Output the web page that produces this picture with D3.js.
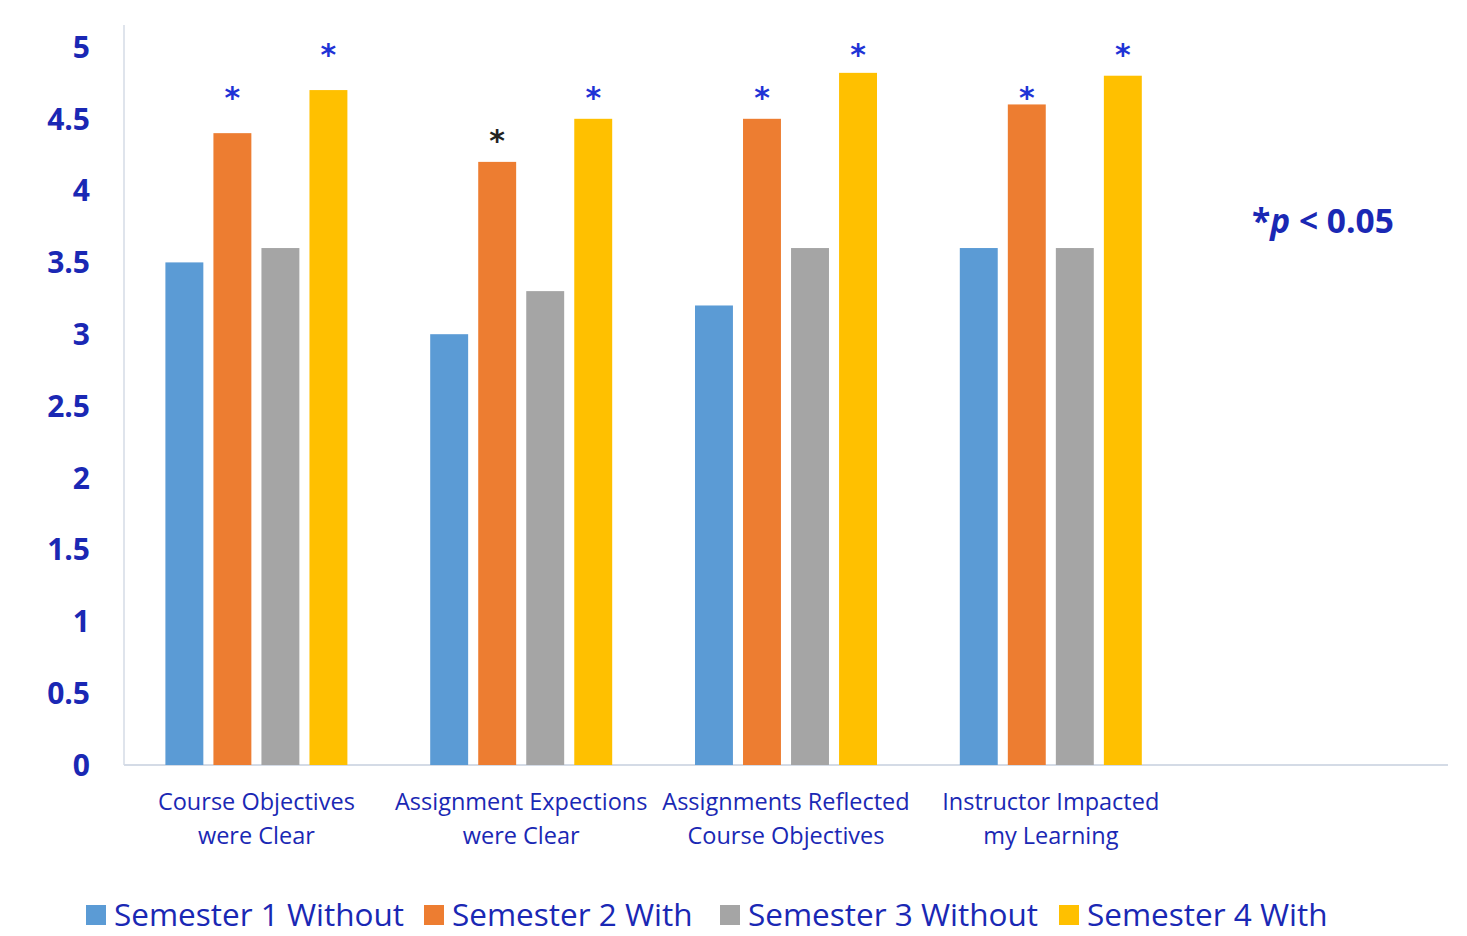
<!DOCTYPE html>
<html>
<head>
<meta charset="utf-8">
<script src="https://cdn.jsdelivr.net/npm/d3@7"></script>
<style>
  body { margin: 0; background: #fff; }
  svg { display: block; }
</style>
</head>
<body>
<div id="chart"></div>
<script>
const categories = [
  ["Course Objectives", "were Clear"],
  ["Assignment Expections", "were Clear"],
  ["Assignments Reflected", "Course Objectives"],
  ["Instructor Impacted", "my Learning"]
];
const seriesNames = ["Semester 1 Without", "Semester 2 With", "Semester 3 Without", "Semester 4 With"];
const sem1 = [3.5, 3.0, 3.2, 3.6];
const sem2 = [4.4, 4.2, 4.5, 4.6];
const sem3 = [3.6, 3.3, 3.6, 3.6];
const sem4 = [4.7, 4.5, 4.82, 4.8];
// significance stars: colour and the level (in axis units) they sit at
const sem2Star = ["blue", "black", "blue", "blue"];
const sem4Star = ["blue", "blue", "blue", "blue"];
const sem2StarLevel = [4.68, 4.38, 4.68, 4.68];
const sem4StarLevel = [4.98, 4.68, 4.98, 4.98];
const yTicks = [0, 0.5, 1, 1.5, 2, 2.5, 3, 3.5, 4, 4.5, 5];

const colors = ["#5B9BD5", "#ED7D31", "#A5A5A5", "#FFC000"];
const textBlue = "#1a28b4";
const starColors = { blue: "#1f33d6", black: "#222" };

const width = 1467, height = 936;
const svg = d3.select("#chart").append("svg")
  .attr("width", width)
  .attr("height", height);

const left = 124, right = 1448, bottom = 765;

// five slots on the axis, last one left empty as in the original
const slots = d3.range(5);
const x = d3.scaleBand().domain(slots).range([left, right]).paddingInner(0).paddingOuter(0);
const groupW = 182;
const x1 = d3.scaleBand().domain(d3.range(4))
  .range([(x.bandwidth() - groupW) / 2, (x.bandwidth() + groupW) / 2])
  .paddingInner(0.21);

const y = d3.scaleLinear().domain([0, 5]).range([bottom, 47]);

// axes lines
svg.append("line")
  .attr("x1", left).attr("x2", left)
  .attr("y1", y(5) - 22).attr("y2", bottom)
  .attr("stroke", "#d4dbe6").attr("stroke-width", 1.5);
svg.append("line")
  .attr("x1", left).attr("x2", right)
  .attr("y1", bottom).attr("y2", bottom)
  .attr("stroke", "#d4dbe6").attr("stroke-width", 2);

// y tick labels
svg.selectAll(".ytick")
  .data(yTicks)
  .enter().append("text")
  .attr("x", 90)
  .attr("y", d => y(d))
  .attr("dy", "0.36em")
  .attr("text-anchor", "end")
  .attr("font-family", "Open Sans, sans-serif")
  .attr("font-weight", "bold")
  .attr("font-size", 30)
  .attr("fill", textBlue)
  .text(d => d);

const allSeries = [sem1, sem2, sem3, sem4];
const bars = [];
allSeries.forEach((vals, s) => {
  vals.forEach((v, c) => bars.push({ s, c, v }));
});

svg.selectAll(".bar")
  .data(bars)
  .enter().append("rect")
  .attr("x", d => x(d.c) + x1(d.s))
  .attr("y", d => y(d.v))
  .attr("width", x1.bandwidth())
  .attr("height", d => bottom - y(d.v))
  .attr("fill", d => colors[d.s]);

// significance stars
const stars = [];
sem2Star.forEach((col, c) => stars.push({ s: 1, c, lvl: sem2StarLevel[c], col }));
sem4Star.forEach((col, c) => stars.push({ s: 3, c, lvl: sem4StarLevel[c], col }));

svg.selectAll(".star")
  .data(stars)
  .enter().append("text")
  .attr("x", d => x(d.c) + x1(d.s) + x1.bandwidth() / 2)
  .attr("y", d => y(d.lvl))
  .attr("dy", "0.5em")
  .attr("text-anchor", "middle")
  .attr("font-family", "DejaVu Sans, sans-serif")
  .attr("font-weight", "bold")
  .attr("font-size", 30)
  .attr("fill", d => starColors[d.col])
  .text("*");

// category labels
const cat = svg.selectAll(".cat")
  .data(categories)
  .enter().append("text")
  .attr("x", (d, i) => x(i) + x.bandwidth() / 2)
  .attr("y", 810)
  .attr("text-anchor", "middle")
  .attr("font-family", "Open Sans, sans-serif")
  .attr("font-size", 23.5)
  .attr("fill", textBlue);
cat.append("tspan").attr("x", (d, i) => x(i) + x.bandwidth() / 2).text(d => d[0]);
cat.append("tspan").attr("x", (d, i) => x(i) + x.bandwidth() / 2).attr("dy", 34).text(d => d[1]);

// p-value note
const note = svg.append("text")
  .attr("x", 1252).attr("y", 233)
  .attr("font-family", "Open Sans, sans-serif")
  .attr("font-weight", "bold")
  .attr("font-size", 33.5)
  .attr("fill", textBlue);
note.append("tspan").text("*");
note.append("tspan").attr("font-style", "italic").text("p");
note.append("tspan").text(" < 0.05");

// legend
const legendX = [86, 424, 720, 1059];
const lg = svg.selectAll(".lg")
  .data(seriesNames)
  .enter().append("g")
  .attr("transform", (d, i) => `translate(${legendX[i]},915)`);
lg.append("rect")
  .attr("x", 0).attr("y", -10)
  .attr("width", 20).attr("height", 20)
  .attr("fill", (d, i) => colors[i]);
lg.append("text")
  .attr("x", 28)
  .attr("dy", "0.36em")
  .attr("font-family", "Open Sans, sans-serif")
  .attr("font-size", 31.5)
  .attr("fill", textBlue)
  .text(d => d);
</script>
</body>
</html>
